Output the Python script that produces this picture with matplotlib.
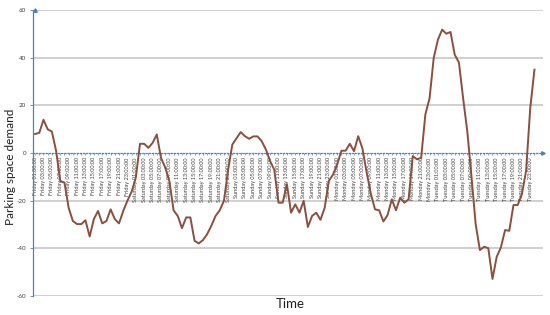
import matplotlib
matplotlib.use('Agg')
import matplotlib.pyplot as plt
import numpy as np

plt.rcParams['font.family'] = ['Lato', 'DejaVu Sans']

days = ['Friday', 'Saturday', 'Sunday', 'Monday', 'Tuesday']
hours = ['%02d:00:00' % h for h in range(1, 25)]

# hourly demand, Friday 01:00 onwards
demand = [
    8, 8.5, 14, 10, 9, 1, -11.7, -12.4, -23, -28.5, -29.8, -29.8,
    -28.2, -35, -27.7, -24.3, -29.5, -28.5, -23.6, -27.7, -29.5, -24.3, -20, -16.2,
    -10.3, 3.9, 3.9, 2.2, 4.3, 7.8, -2, -6, -11.7, -24, -26.4, -31.5,
    -27, -27, -36.8, -37.9, -36.5, -34, -30.5, -26.4, -24, -20, -7, 3.6,
    6.2, 8.8, 7.1, 6, 7, 7, 5, 1.5, -3.3, -7, -20.8, -20.8,
    -13, -25, -21.5, -25, -20, -31, -26.4, -25, -28, -23, -11.7, -9,
    -4.7, 1, 1, 3.9, 0.8, 7.1, 2, -8, -17, -23.6, -24, -28.7,
    -26, -19.4, -24, -18.7, -20.8, -19.4, -1.3, -2.6, -2, 16.2, 23, 40,
    47.6, 51.8, 50.1, 50.8, 41.3, 38, 23, 9, -10, -30, -40.7, -39.3,
    -39.9, -52.8, -43.5, -39.6, -32.3, -32.6, -21.8, -21.8, -17.3, -7.5, 19, 35,
]
labels = [d + ' ' + h for d in days for h in hours][:len(demand)]
y_ticks = [-60, -40, -20, 0, 20, 40, 60]

fig = plt.figure(figsize=(5.5, 3.15), dpi=100)
ax = fig.add_axes([0.06, 0.06, 0.927, 0.908])

x = np.arange(len(demand))
for yv in y_ticks:
    if yv != 0:
        ax.axhline(yv, color='#c4c4c4', lw=1.1, zorder=1)

ax.plot(x, demand, color='#8a4f3d', lw=1.4, zorder=3)

ax.set_xlim(-0.5, 121)
ax.set_ylim(-60, 60)

for s in ['top', 'right']:
    ax.spines[s].set_visible(False)
ax.spines['bottom'].set_position(('data', 0))
ax.spines['bottom'].set_color('#4f81bd')
ax.spines['bottom'].set_linestyle((0, (1, 1.5)))
ax.spines['bottom'].set_linewidth(0.9)
ax.spines['bottom'].set_zorder(2)
ax.spines['left'].set_color('#4f81bd')
ax.spines['left'].set_linewidth(0.9)

# axis arrows
ax.plot(1, 0, '>', color='#4f81bd', ms=2.5, transform=ax.get_yaxis_transform(), clip_on=False)
ax.plot(0, 1, '^', color='#4f81bd', ms=2.5, transform=ax.get_xaxis_transform(), clip_on=False)

ax.set_xticks(x[::2])
ax.set_xticklabels(labels[::2], rotation=90, fontsize=4, color='#404040')
ax.set_xticks(x[1::2], minor=True)
ax.tick_params(axis='x', which='both', direction='out', length=1.5, width=0.5,
               color='#4f81bd', pad=1.5)

ax.set_yticks(y_ticks)
ax.set_yticklabels([str(v) for v in y_ticks], fontsize=4.5, color='#404040')
ax.tick_params(axis='y', direction='out', length=2, width=0.6, color='#4f81bd', pad=3)

fig.text(0.02, 0.47, 'Parking space demand', rotation=90, ha='center', va='center',
         fontsize=8.5, color='#202020')
fig.text(0.527, 0.036, 'Time', ha='center', va='center', fontsize=9.5, color='#202020')

fig.savefig('out.png', dpi=100)
